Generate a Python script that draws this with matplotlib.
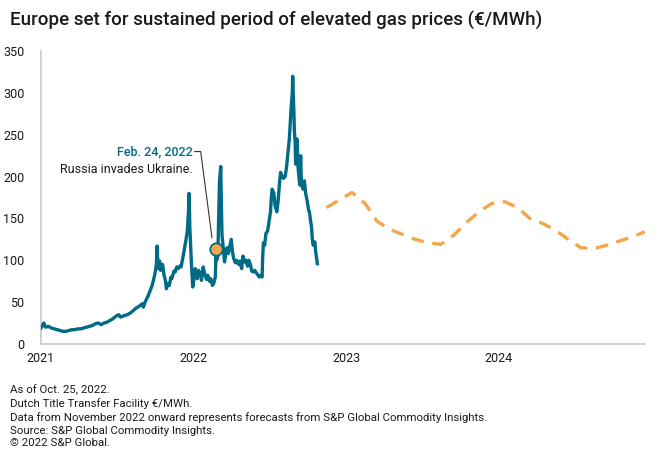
import matplotlib
matplotlib.use('Agg')
import matplotlib.pyplot as plt
import matplotlib.dates as mdates
import pandas as pd

# 历史价格（TTF，€/MWh），从图上读的近似值
hist_dates = [
    '2021-01-01', '2021-01-05', '2021-01-08', '2021-01-12', '2021-01-19', '2021-01-26',
    '2021-02-02', '2021-02-09', '2021-02-16', '2021-02-23', '2021-03-02', '2021-03-09',
    '2021-03-16', '2021-03-23', '2021-03-30', '2021-04-06', '2021-04-13', '2021-04-20',
    '2021-04-27', '2021-05-04', '2021-05-11', '2021-05-18', '2021-05-25', '2021-06-01',
    '2021-06-08', '2021-06-15', '2021-06-22', '2021-06-29', '2021-07-06', '2021-07-10',
    '2021-07-20', '2021-07-27', '2021-08-03', '2021-08-10', '2021-08-17', '2021-08-24',
    '2021-08-31', '2021-09-03', '2021-09-07', '2021-09-14', '2021-09-21', '2021-09-24',
    '2021-09-28', '2021-10-01', '2021-10-04', '2021-10-06', '2021-10-07', '2021-10-08',
    '2021-10-12', '2021-10-14', '2021-10-19', '2021-10-22', '2021-10-26', '2021-10-28',
    '2021-11-01', '2021-11-04', '2021-11-08', '2021-11-10', '2021-11-15', '2021-11-18',
    '2021-11-22', '2021-11-25', '2021-11-29', '2021-12-02', '2021-12-06', '2021-12-10',
    '2021-12-14', '2021-12-17', '2021-12-20', '2021-12-21', '2021-12-22', '2021-12-23',
    '2021-12-27', '2021-12-30',
    '2022-01-03', '2022-01-05', '2022-01-07', '2022-01-10', '2022-01-13', '2022-01-17',
    '2022-01-20', '2022-01-24', '2022-01-27', '2022-02-01', '2022-02-04', '2022-02-08',
    '2022-02-11', '2022-02-15', '2022-02-18', '2022-02-22', '2022-02-24', '2022-02-25',
    '2022-02-28', '2022-03-02', '2022-03-04', '2022-03-07', '2022-03-08', '2022-03-10',
    '2022-03-14', '2022-03-16', '2022-03-18', '2022-03-22', '2022-03-25', '2022-03-29',
    '2022-04-01', '2022-04-04', '2022-04-07', '2022-04-11', '2022-04-14', '2022-04-19',
    '2022-04-22', '2022-04-26', '2022-04-29', '2022-05-03', '2022-05-06', '2022-05-10',
    '2022-05-13', '2022-05-17', '2022-05-20', '2022-05-24', '2022-05-27', '2022-05-31',
    '2022-06-03', '2022-06-07', '2022-06-10', '2022-06-14', '2022-06-15', '2022-06-17',
    '2022-06-20', '2022-06-23', '2022-06-27', '2022-06-30', '2022-07-04', '2022-07-06',
    '2022-07-08', '2022-07-12', '2022-07-15', '2022-07-19', '2022-07-22', '2022-07-26',
    '2022-07-28', '2022-08-01', '2022-08-04', '2022-08-08', '2022-08-11', '2022-08-15',
    '2022-08-18', '2022-08-22', '2022-08-25', '2022-08-26', '2022-08-29', '2022-08-30',
    '2022-09-01', '2022-09-02', '2022-09-05', '2022-09-06', '2022-09-08', '2022-09-12',
    '2022-09-14', '2022-09-16', '2022-09-20', '2022-09-23', '2022-09-26', '2022-09-28',
    '2022-09-30', '2022-10-03', '2022-10-05', '2022-10-07', '2022-10-10', '2022-10-12',
    '2022-10-14', '2022-10-18', '2022-10-20', '2022-10-24',
]
hist_values = [
    19, 22, 25, 20, 21, 19,
    18, 17, 16, 15, 15, 16,
    17, 17, 18, 18, 19, 20,
    21, 22, 24, 25, 23, 25,
    26, 28, 30, 33, 35, 32,
    34, 35, 37, 40, 43, 45,
    48, 44, 50, 57, 66, 70,
    78, 85, 95, 117, 105, 90,
    99, 88, 95, 83, 75, 66,
    72, 70, 80, 78, 87, 86,
    92, 90, 93, 92, 102, 113,
    125, 135, 160, 180, 165, 140,
    95, 68,
    82, 90, 80, 78, 88, 84,
    76, 92, 85, 77, 82, 75,
    78, 70, 72, 80, 114, 100,
    105, 150, 195, 212, 180, 130,
    110, 98, 105, 115, 108, 118,
    125, 110, 102, 97, 100, 95,
    99, 90, 105, 98, 100, 93,
    100, 95, 87, 86, 88, 85,
    83, 80, 82, 80, 100, 121,
    118, 132, 135, 145, 158, 175,
    185, 180, 165, 158, 170, 195,
    205, 200, 198, 200, 210, 230,
    245, 280, 300, 320, 275, 255,
    240, 215, 245, 235, 210, 190,
    225, 190, 185, 195, 180, 175,
    170, 160, 158, 150, 140, 125,
    118, 122, 110, 96,
]

# 预测（S&P Global Commodity Insights），按月（画在月中）
fc_months = pd.date_range('2022-11-01', '2024-12-01', freq='MS')
fc_values = [163, 172, 181, 168, 147, 137, 131, 125, 121, 119, 130, 145,
             158, 168, 170, 163, 150, 144, 136, 125, 115, 114, 118, 123,
             128, 134]

event_date = '2022-02-24'
event_value = 114

teal = '#006b87'
orange = '#f3a64c'
text_color = '#1a1a1a'

plt.rcParams['font.family'] = ['Roboto', 'DejaVu Sans']

fig = plt.figure(figsize=(6.6, 4.61), dpi=100)
ax = fig.add_axes([0.062, 0.254, 0.915, 0.635])

hd = pd.to_datetime(hist_dates)
ax.plot(hd, hist_values, color=teal, lw=2.4, zorder=3)
fd = fc_months + pd.Timedelta(days=14)
ax.plot(fd, fc_values, color=orange, lw=2.4, dashes=(3.8, 2.6), zorder=3)

# 事件标记 + 引线
ed = pd.to_datetime(event_date)
ax.scatter([ed], [event_value], s=80, color=orange, edgecolor=teal, linewidth=1.3, zorder=5)
lead_x = pd.to_datetime(['2022-01-04', '2022-01-18', '2022-02-14'])
lead_y = [230, 230, 127]
ax.plot(lead_x, lead_y, color='#333333', lw=0.8, zorder=4)
ax.text(pd.to_datetime('2021-12-29'), 230, 'Feb. 24, 2022', color=teal, fontsize=9,
        fontweight='medium', ha='right', va='center')
ax.text(pd.to_datetime('2021-12-29'), 209, 'Russia invades Ukraine.', color=text_color,
        fontsize=9, ha='right', va='center')

ax.set_xlim(pd.to_datetime('2021-01-01'), pd.to_datetime('2024-12-15'))
ax.set_ylim(0, 350)
ax.set_yticks(range(0, 351, 50))
ax.xaxis.set_major_locator(mdates.YearLocator())
ax.xaxis.set_major_formatter(mdates.DateFormatter('%Y'))

for side in ['top', 'right']:
    ax.spines[side].set_visible(False)
for side in ['left', 'bottom']:
    ax.spines[side].set_color('#c8c8c8')
    ax.spines[side].set_linewidth(1.2)
ax.tick_params(length=0, labelsize=9, colors=text_color, pad=6)
ax.tick_params(axis='y', pad=12)

fig.text(0.015, 0.955, 'Europe set for sustained period of elevated gas prices (\u20ac/MWh)',
         fontsize=13.5, fontweight='medium', color=text_color, va='center')

notes = ['As of Oct. 25, 2022.',
         'Dutch Title Transfer Facility \u20ac/MWh.',
         'Data from November 2022 onward represents forecasts from S&P Global Commodity Insights.',
         'Source: S&P Global Commodity Insights.',
         '\u00a9 2022 S&P Global.']
fig.text(0.015, 0.165, '\n'.join(notes), fontsize=8.2, color=text_color, va='top',
         linespacing=1.32)

fig.savefig('out.png', dpi=100)
